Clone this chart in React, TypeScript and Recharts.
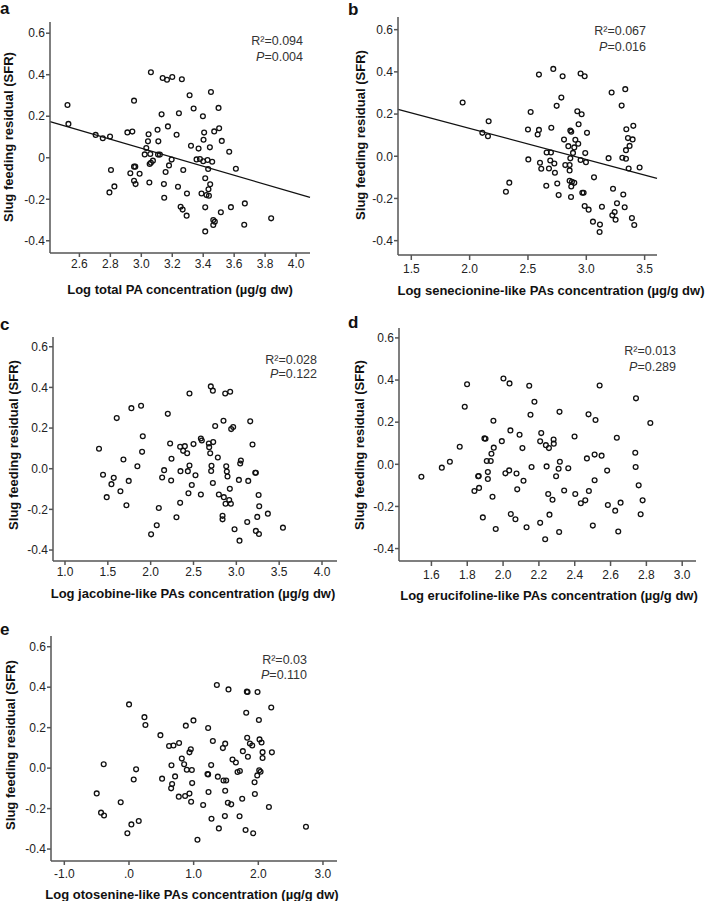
import React from 'react';
import { ScatterChart, Scatter, XAxis, YAxis, ReferenceLine } from 'recharts';

const FONT = '"Liberation Sans", Arial, Helvetica, sans-serif';

const yTicks = [-0.4, -0.2, 0, 0.2, 0.4, 0.6];

// a: log total PA
const totalPA: [number, number][] = [
    [2.523, 0.254], [2.529, 0.163], [2.705, 0.110], [2.751, 0.094], [2.798, 0.102], [2.804, -0.059], [2.794, -0.167], [2.826, -0.138],
    [2.953, 0.275], [2.910, 0.122], [2.942, 0.126], [2.929, -0.075], [2.953, -0.043], [2.961, -0.043], [2.989, -0.077], [2.953, -0.111],
    [2.963, -0.127], [3.062, 0.412], [3.047, 0.113], [3.043, 0.079], [3.032, 0.047], [3.022, 0.016], [3.058, 0.018], [3.054, -0.030],
    [3.062, -0.024], [3.075, -0.014], [3.052, -0.119], [3.131, 0.209], [3.105, 0.135], [3.110, 0.079], [3.108, 0.015], [3.120, 0.015],
    [3.138, 0.384], [3.166, 0.376], [3.200, 0.389], [3.262, 0.378], [3.172, 0.151], [3.196, -0.009], [3.179, -0.037], [3.157, -0.069],
    [3.146, -0.127], [3.148, -0.193], [3.312, 0.301], [3.243, 0.214], [3.228, 0.111], [3.271, -0.059], [3.237, -0.140], [3.295, -0.172],
    [3.254, -0.236], [3.267, -0.250], [3.293, -0.279], [3.338, 0.237], [3.321, 0.058], [3.370, 0.044], [3.357, -0.008], [3.379, -0.006],
    [3.400, -0.017], [3.428, -0.011], [3.458, -0.019], [3.398, 0.200], [3.406, 0.121], [3.402, 0.087], [3.450, 0.317], [3.499, 0.240],
    [3.471, 0.127], [3.503, 0.142], [3.520, 0.081], [3.443, 0.050], [3.432, -0.054], [3.413, -0.099], [3.445, -0.128], [3.434, -0.152],
    [3.389, -0.172], [3.421, -0.180], [3.437, -0.183], [3.413, -0.239], [3.568, 0.029], [3.611, -0.053], [3.579, -0.238], [3.514, -0.263],
    [3.465, -0.300], [3.475, -0.308], [3.465, -0.324], [3.413, -0.355], [3.669, -0.220], [3.665, -0.323], [3.839, -0.292],
];

// b: log senecionine-like PAs
const senecionine: [number, number][] = [
    [1.940, 0.255], [2.109, 0.111], [2.157, 0.095], [2.163, 0.166], [2.311, -0.168], [2.340, -0.125], [2.503, -0.015], [2.500, 0.127],
    [2.523, 0.210], [2.583, 0.103], [2.594, 0.125], [2.594, 0.387], [2.603, -0.031], [2.614, -0.059], [2.657, -0.140], [2.660, 0.018],
    [2.680, -0.058], [2.697, 0.018], [2.691, -0.020], [2.700, 0.135], [2.717, 0.414], [2.726, -0.034], [2.731, -0.078], [2.746, 0.239],
    [2.751, -0.129], [2.763, -0.184], [2.786, 0.278], [2.797, 0.379], [2.809, 0.079], [2.820, -0.042], [2.846, 0.048], [2.857, -0.042],
    [2.857, -0.067], [2.863, 0.122], [2.863, -0.010], [2.871, 0.116], [2.857, -0.116], [2.871, -0.143], [2.877, -0.121], [2.869, -0.193],
    [2.886, 0.016], [2.897, 0.042], [2.906, 0.078], [2.897, -0.126], [2.923, 0.213], [2.931, 0.059], [2.934, 0.152], [2.951, 0.392],
    [2.960, 0.199], [2.951, -0.018], [2.966, -0.173], [2.977, -0.173], [2.986, 0.379], [2.991, 0.015], [2.997, -0.028], [3.006, 0.111],
    [2.986, -0.236], [3.020, -0.253], [3.066, -0.100], [3.057, -0.310], [3.117, -0.324], [3.114, -0.359], [3.134, -0.239], [3.191, -0.009],
    [3.217, 0.302], [3.229, -0.154], [3.263, -0.223], [3.223, -0.280], [3.243, -0.264], [3.251, -0.301], [3.303, 0.240], [3.309, -0.007],
    [3.317, -0.181], [3.329, -0.242], [3.334, 0.318], [3.340, -0.012], [3.343, 0.128], [3.357, 0.086], [3.363, -0.058], [3.371, 0.049],
    [3.340, 0.029], [3.391, -0.293], [3.397, 0.080], [3.403, 0.144], [3.411, -0.326], [3.457, -0.053],
];

// c: log jacobine-like PAs
const jacobine: [number, number][] = [
    [1.397, 0.098], [1.444, -0.030], [1.487, -0.140], [1.542, -0.076], [1.569, -0.045], [1.604, 0.249], [1.647, -0.111], [1.682, 0.045],
    [1.717, -0.180], [1.744, -0.060], [1.775, 0.298], [1.845, 0.012], [1.888, 0.310], [1.908, 0.160], [1.900, 0.083], [2.005, -0.323],
    [2.071, -0.278], [2.095, -0.193], [2.134, -0.043], [2.157, -0.007], [2.200, 0.270], [2.227, 0.124], [2.239, -0.058], [2.243, 0.049],
    [2.301, -0.239], [2.344, -0.168], [2.348, -0.012], [2.344, 0.108], [2.379, 0.088], [2.399, 0.111], [2.426, 0.076], [2.434, -0.012],
    [2.441, -0.121], [2.453, 0.016], [2.453, 0.370], [2.480, -0.080], [2.500, 0.121], [2.523, -0.032], [2.586, -0.127], [2.586, 0.149],
    [2.597, 0.139], [2.679, 0.124], [2.683, 0.106], [2.695, 0.076], [2.706, -0.011], [2.710, 0.014], [2.726, -0.070], [2.730, 0.131],
    [2.702, 0.405], [2.726, 0.384], [2.753, 0.210], [2.784, 0.055], [2.796, -0.127], [2.839, -0.232], [2.839, -0.249], [2.850, 0.236],
    [2.854, -0.140], [2.870, 0.370], [2.874, -0.172], [2.882, 0.012], [2.889, -0.014], [2.897, -0.038], [2.917, -0.154], [2.936, -0.172],
    [2.924, -0.099], [2.928, 0.379], [2.940, 0.195], [2.963, 0.205], [2.979, -0.298], [3.030, -0.055], [3.045, 0.026], [3.053, 0.040],
    [3.037, -0.354], [3.127, -0.262], [3.139, -0.060], [3.162, 0.233], [3.189, 0.119], [3.221, -0.020], [3.228, -0.020], [3.228, -0.306],
    [3.244, -0.237], [3.260, -0.129], [3.267, -0.185], [3.264, -0.321], [3.368, -0.221], [3.544, -0.290],
];

// d: log erucifoline-like PAs
const erucifoline: [number, number][] = [
    [1.544, -0.059], [1.658, -0.016], [1.703, 0.012], [1.758, 0.083], [1.786, 0.273], [1.799, 0.380], [1.840, -0.127], [1.866, -0.112],
    [1.861, -0.057], [1.864, -0.056], [1.887, -0.252], [1.896, 0.123], [1.902, 0.121], [1.909, 0.016], [1.931, 0.016], [1.915, -0.037],
    [1.915, -0.070], [1.935, 0.050], [1.941, -0.154], [1.948, 0.079], [1.946, 0.207], [1.959, -0.307], [1.993, 0.110], [2.002, 0.407],
    [2.013, -0.043], [2.034, -0.029], [2.036, 0.384], [2.041, 0.161], [2.043, -0.236], [2.069, -0.261], [2.075, -0.044], [2.079, -0.119],
    [2.092, 0.140], [2.108, 0.077], [2.114, -0.078], [2.131, -0.299], [2.146, 0.373], [2.153, 0.235], [2.159, -0.013], [2.175, 0.297],
    [2.207, -0.278], [2.213, 0.148], [2.207, 0.109], [2.235, -0.356], [2.239, 0.091], [2.243, -0.010], [2.252, -0.141], [2.256, 0.077],
    [2.259, -0.239], [2.276, -0.168], [2.282, 0.118], [2.283, 0.098], [2.296, -0.057], [2.310, -0.021], [2.315, 0.249], [2.313, -0.321],
    [2.317, 0.012], [2.341, -0.124], [2.364, -0.019], [2.399, 0.132], [2.403, -0.141], [2.434, -0.185], [2.459, -0.171], [2.468, 0.028],
    [2.477, 0.237], [2.479, -0.127], [2.501, -0.291], [2.511, -0.076], [2.511, 0.046], [2.516, 0.210], [2.539, 0.374], [2.550, 0.041],
    [2.581, -0.030], [2.585, -0.193], [2.626, -0.220], [2.635, 0.126], [2.643, -0.319], [2.656, -0.182], [2.738, 0.055], [2.742, 0.313],
    [2.740, -0.013], [2.757, -0.100], [2.768, -0.237], [2.779, -0.171], [2.822, 0.196],
];

// e: log otosenine-like PAs
const otosenine: [number, number][] = [
    [-0.499, -0.125], [-0.432, -0.220], [-0.386, -0.234], [-0.391, 0.019], [-0.128, -0.169], [-0.025, -0.322], [0.001, 0.315], [0.037, -0.278],
    [0.073, -0.056], [0.110, -0.006], [0.151, -0.261], [0.239, 0.252], [0.254, 0.213], [0.486, 0.163], [0.512, -0.052], [0.620, 0.109],
    [0.688, 0.112], [0.775, 0.124], [0.657, 0.014], [0.652, -0.100], [0.667, -0.079], [0.713, -0.041], [0.770, -0.141], [0.817, 0.047],
    [0.853, 0.019], [0.868, -0.138], [0.879, 0.210], [0.894, -0.008], [0.935, 0.078], [0.956, 0.093], [0.935, -0.126], [0.972, -0.009],
    [0.977, -0.074], [0.961, -0.166], [0.997, 0.236], [1.059, -0.354], [1.147, -0.182], [1.214, -0.029], [1.224, -0.031], [1.230, -0.118],
    [1.224, 0.198], [1.271, 0.015], [1.276, -0.250], [1.297, 0.134], [1.359, 0.411], [1.374, -0.042], [1.390, -0.298], [1.452, 0.099],
    [1.462, -0.061], [1.503, -0.061], [1.488, 0.121], [1.488, -0.112], [1.483, -0.237], [1.529, -0.171], [1.581, -0.179], [1.539, 0.389],
    [1.601, 0.043], [1.653, 0.028], [1.679, -0.019], [1.715, -0.014], [1.710, -0.238], [1.751, -0.151], [1.761, 0.084], [1.803, -0.306],
    [1.813, 0.274], [1.828, 0.150], [1.823, 0.378], [1.834, 0.376], [1.839, 0.056], [1.870, 0.122], [1.906, 0.112], [1.921, -0.322],
    [1.942, -0.070], [1.947, -0.128], [1.983, -0.036], [1.988, 0.376], [2.009, 0.238], [2.019, 0.142], [2.050, 0.127], [2.014, -0.011],
    [2.035, -0.018], [2.066, 0.079], [2.066, 0.050], [2.164, -0.192], [2.200, 0.300], [2.210, 0.078], [2.737, -0.290],
];

const ring = (props: any) => (
    <circle cx={props.cx} cy={props.cy} r={2.4} fill="none" stroke="#111" strokeWidth={1.3} />
);

const fixed1 = (v: number) => v.toFixed(1);

const panels = [
    {
        letter: 'a', points: totalPA, box: [0, 0, 340, 300], plot: [50, 310, 22, 253],
        xDomain: [2.41, 4.09], yDomain: [-0.459, 0.654], xTicks: [2.6, 2.8, 3.0, 3.2, 3.4, 3.6, 3.8, 4.0],
        tick: [4, 2], xFmt: fixed1, yFmt: (v: number) => (v === 0 ? '0' : v.toFixed(1)),
        fit: [0.699, -0.2177], r2: '0.094', p: '0.004',
        title: 'Log total PA concentration (µg/g dw)',
        letterAt: [0, 14], yTitleAt: [13, 137], xTitleAt: [180, 294], statsAt: [303, 45, 60.5],
    },
    {
        letter: 'b', points: senecionine, box: [342, 0, 366, 300], plot: [398, 657, 17, 255],
        xDomain: [1.386, 3.606], yDomain: [-0.468, 0.66], xTicks: [1.5, 2.0, 2.5, 3.0, 3.5],
        tick: [5, 4], xFmt: fixed1, yFmt: fixed1,
        fit: [0.427, -0.1475], r2: '0.067', p: '0.016',
        title: 'Log senecionine-like PAs concentration (µg/g dw)',
        letterAt: [348, 15], yTitleAt: [365, 135], xTitleAt: [551, 295], statsAt: [646, 34.5, 51],
    },
    {
        letter: 'c', points: jacobine, box: [0, 308, 342, 302], plot: [53, 337, 337, 561],
        xDomain: [0.86, 4.175], yDomain: [-0.454, 0.648], xTicks: [1.0, 1.5, 2.0, 2.5, 3.0, 3.5, 4.0],
        tick: [4, 2], xFmt: fixed1, yFmt: fixed1,
        fit: null, r2: '0.028', p: '0.122',
        title: 'Log jacobine-like PAs concentration (µg/g dw)',
        letterAt: [0, 330], yTitleAt: [18, 445], xTitleAt: [193, 598], statsAt: [317, 363.5, 378],
    },
    {
        letter: 'd', points: erucifoline, box: [342, 308, 366, 302], plot: [399, 696, 328, 561],
        xDomain: [1.419, 3.077], yDomain: [-0.459, 0.647], xTicks: [1.6, 1.8, 2.0, 2.2, 2.4, 2.6, 2.8, 3.0],
        tick: [5, 4], xFmt: fixed1, yFmt: fixed1,
        fit: null, r2: '0.013', p: '0.289',
        title: 'Log erucifoline-like PAs concentration (µg/g dw)',
        letterAt: [348, 328], yTitleAt: [364, 445], xTitleAt: [549, 599.5], statsAt: [676, 354.5, 371],
    },
    {
        letter: 'e', points: otosenine, box: [0, 612, 342, 289], plot: [51, 337, 636, 861],
        xDomain: [-1.206, 3.217], yDomain: [-0.459, 0.653], xTicks: [-1.0, 0, 1.0, 2.0, 3.0],
        tick: [4, 4], xFmt: (v: number) => (v === 0 ? '.0' : v.toFixed(1)), yFmt: fixed1,
        fit: null, r2: '0.03', p: '0.110',
        title: 'Log otosenine-like PAs concentration (µg/g dw)',
        letterAt: [0, 635], yTitleAt: [15, 745], xTitleAt: [192, 899], statsAt: [307, 663.5, 679],
    },
];

const Panel = ({ cfg }: { cfg: any }) => {
    const [bx, by, bw, bh] = cfg.box;
    const [px0, px1, py0, py1] = cfg.plot;
    const data = cfg.points.map(([x, y]: [number, number]) => ({ x, y }));
    const axisStyle = { stroke: '#555', strokeWidth: 1.5 };
    const tickStyle = { fill: '#222', fontSize: 12 };

    const annotations = () => (
        <g>
            <text x={cfg.letterAt[0] - bx} y={cfg.letterAt[1] - by} fontSize={17} fontWeight="bold" fill="#111">{cfg.letter}</text>
            <text transform={`translate(${cfg.yTitleAt[0] - bx},${cfg.yTitleAt[1] - by}) rotate(-90)`} textAnchor="middle" fontSize={13} fontWeight="bold" fill="#111">
                Slug feeding residual (SFR)
            </text>
            <text x={cfg.xTitleAt[0] - bx} y={cfg.xTitleAt[1] - by} textAnchor="middle" fontSize={13} fontWeight="bold" fill="#111">
                {cfg.title}
            </text>
            <text x={cfg.statsAt[0] - bx} y={cfg.statsAt[1] - by} textAnchor="end" fontSize={12.5} fill="#333">R²={cfg.r2}</text>
            <text x={cfg.statsAt[0] - bx} y={cfg.statsAt[2] - by} textAnchor="end" fontSize={12.5} fill="#333">
                <tspan fontStyle="italic">P</tspan>={cfg.p}
            </text>
        </g>
    );

    let segment: any = null;
    if (cfg.fit) {
        const [b0, b1] = cfg.fit;
        segment = cfg.xDomain.map((x: number) => ({ x, y: b0 + b1 * x }));
    }

    return (
        <div style={{ position: 'absolute', left: bx, top: by }}>
            <ScatterChart width={bw} height={bh} margin={{ top: py0 - by, right: bx + bw - px1, left: 0, bottom: 0 }}>
                <XAxis
                    type="number" dataKey="x" domain={cfg.xDomain} allowDataOverflow ticks={cfg.xTicks} interval={0}
                    tickFormatter={cfg.xFmt} height={by + bh - py1} tickSize={cfg.tick[0]} tickMargin={cfg.tick[1]}
                    axisLine={axisStyle} tickLine={axisStyle} tick={tickStyle} label={annotations}
                />
                <YAxis
                    type="number" dataKey="y" domain={cfg.yDomain} allowDataOverflow ticks={yTicks} interval={0}
                    tickFormatter={cfg.yFmt} width={px0 - bx} tickSize={4} tickMargin={1}
                    axisLine={axisStyle} tickLine={axisStyle} tick={tickStyle}
                />
                {segment && <ReferenceLine segment={segment} stroke="#111" strokeWidth={1.3} ifOverflow="visible" />}
                <Scatter data={data} shape={ring} isAnimationActive={false} />
            </ScatterChart>
        </div>
    );
};

const App = () => (
    <div style={{ position: 'absolute', left: 0, top: 0, width: 708, height: 901, background: '#fff', fontFamily: FONT }}>
        {panels.map((cfg) => <Panel key={cfg.letter} cfg={cfg} />)}
    </div>
);

export default App;
